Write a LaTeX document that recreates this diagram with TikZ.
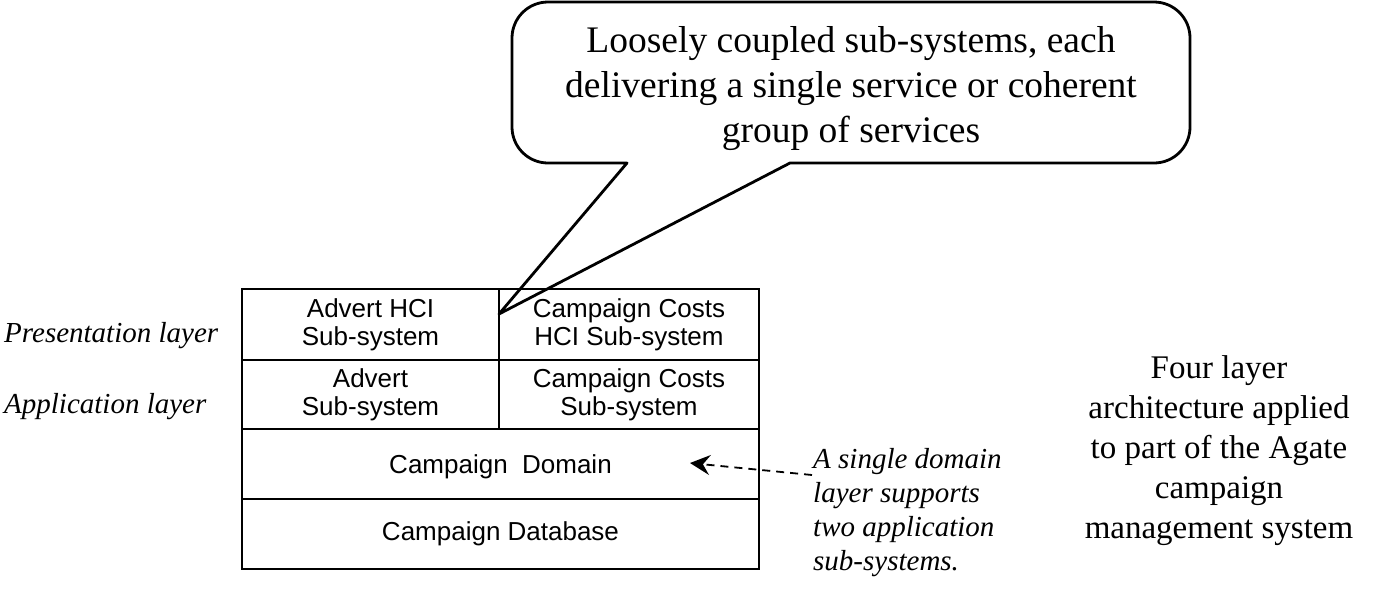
\documentclass[tikz,border=0pt]{standalone}
\usepackage{fontspec}
\setmainfont{Liberation Serif}
\newfontfamily\boxfont{Liberation Sans}
\usetikzlibrary{arrows.meta}
\tikzset{>={Stealth[length=20pt,width=20pt,inset=7pt]}}
\tikzset{
  cell/.style={draw, line width=1.8pt, inner sep=0pt, align=center,
    font=\boxfont\fontsize{26}{28}\selectfont},
  layer/.style={anchor=west, inner sep=0pt, font=\itshape\fontsize{29}{34}\selectfont},
}

\begin{document}
\begin{tikzpicture}[x=1pt, y=-1pt]
      \useasboundingbox (0, 0) rectangle (1380, 600);
      % callout
      \node[align=center, font=\fontsize{37.5}{45}\selectfont] (callout) at (851, 89)
        {Loosely coupled sub-systems, each\\ delivering a single service or coherent\\ group of services};
      \coordinate (ptr) at (499, 314);
      \draw[line width=2.8pt, line join=round] [rounded corners=36] (790, 163) -- (1190, 163) -- (1190, 2)
        -- (512, 2) -- (512, 163) [sharp corners] -- (627, 163) -- (ptr) -- cycle;
      % layers
      \node[cell, minimum width=257, minimum height=71] (advhci) at (370.5, 324.5) {Advert HCI\\ Sub-system};
      \node[cell, minimum width=260, minimum height=71] (costhci) at (629, 324.5) {Campaign Costs\\ HCI Sub-system};
      \node[cell, minimum width=257, minimum height=69] (adv) at (370.5, 394.5) {Advert\\ Sub-system};
      \node[cell, minimum width=260, minimum height=69] (costs) at (629, 394.5) {Campaign Costs\\ Sub-system};
      \node[cell, minimum width=517, minimum height=70, text height=25pt] (domain) at (500.5, 464) {Campaign\ \ Domain};
      \node[cell, minimum width=517, minimum height=70] (db) at (500.5, 534) {Campaign Database};
      % labels
      \node[layer] (pres) at (4, 336) {Presentation layer};
      \node[layer] (app) at (4, 407) {Application layer};
      \node[layer, align=left, anchor=north west] (note) at (813, 448)
        {A single domain\\ layer supports\\ two application\\ sub-systems.};
      \node[align=center, font=\fontsize{33}{40}\selectfont] (title) at (1219, 451)
        {Four layer\\ architecture applied\\ to part of the Agate\\ campaign\\ management system};
      % arrow
      \coordinate (dtip) at (690, 463);
      \coordinate (dstart) at (812, 475);
      \draw[->, line width=1.8pt, dash pattern=on 8pt off 6pt] (dstart) -- (dtip);
    \end{tikzpicture}
\end{document}
